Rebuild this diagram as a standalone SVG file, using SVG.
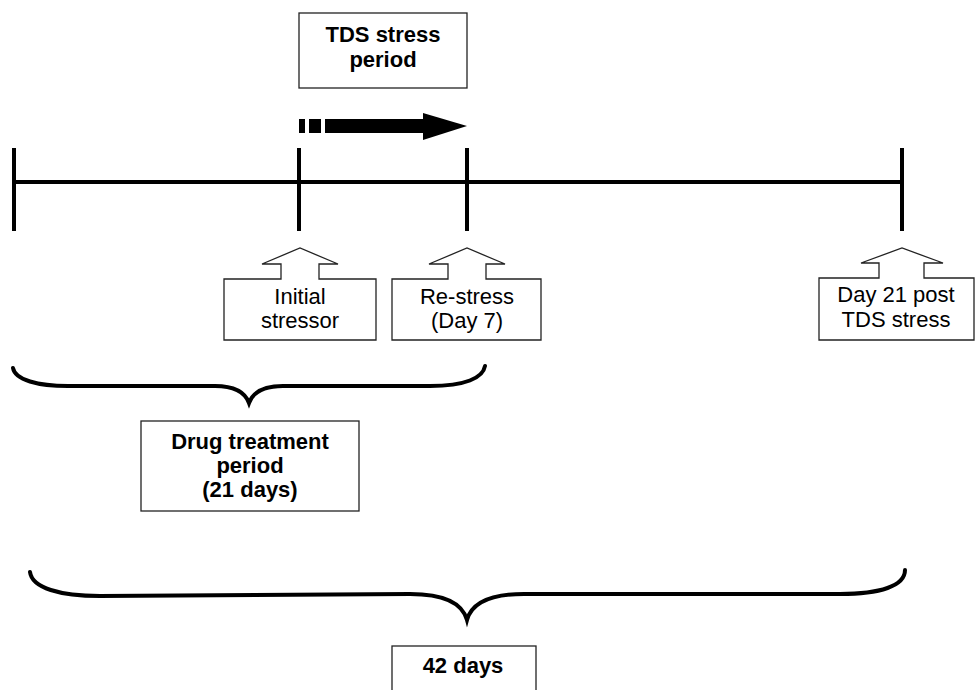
<svg xmlns="http://www.w3.org/2000/svg" width="975" height="690" viewBox="0 0 975 690">
<style>
.box{fill:#fff;stroke:#222;stroke-width:1.3}
.t{font-family:"Liberation Sans",Arial,sans-serif;font-size:22px;fill:#000;text-anchor:middle}
.b{font-weight:bold}
.line{stroke:#000;stroke-width:4;fill:none}
.brace{stroke:#000;stroke-width:4;fill:none;stroke-linecap:round}
</style>
<rect width="975" height="690" fill="#fff"/>
<g id="connectors">
<line class="line" x1="14" y1="182" x2="902" y2="182"/>
<line class="line" x1="14" y1="148" x2="14" y2="231"/>
<line class="line" x1="299" y1="148" x2="299" y2="231"/>
<line class="line" x1="467" y1="148" x2="467" y2="231"/>
<line class="line" x1="902" y1="148" x2="902" y2="231"/>
<g id="stress-arrow" fill="#000">
<rect x="299" y="119" width="6" height="14"/>
<rect x="309" y="119" width="12" height="14"/>
<rect x="325" y="119" width="99" height="14"/>
<polygon points="423,113 467,126 423,140"/>
</g>
<path class="brace" d="M13,368 C15,380 38,386 68,386 L215,386 C235,386 245,392 249,403 C253,392 263,386 283,386 L430,386 C465,386 483,378 485,366"/>
<path class="brace" d="M30,572 C32,588 60,596 100,596 L410,594 C442,594 462,602 467,620 C472,602 492,594 524,594 L840,594 C880,594 905,586 905,570"/>
</g>
<g id="tds-stress-period">
<rect class="box" x="299" y="13" width="168" height="75"/>
<text class="t b" x="383" y="42">TDS stress</text>
<text class="t b" x="383" y="67">period</text>
</g>
<g id="initial-stressor">
<path class="box" d="M224,279 L281,279 L281,264 L262,264 L300,248 L338,264 L319,264 L319,279 L376,279 L376,340 L224,340 Z"/>
<text class="t" x="300" y="304">Initial</text>
<text class="t" x="300" y="328">stressor</text>
</g>
<g id="re-stress">
<path class="box" d="M392,279 L448,279 L448,264 L429,264 L467,248 L505,264 L486,264 L486,279 L541,279 L541,340 L392,340 Z"/>
<text class="t" x="467" y="304">Re-stress</text>
<text class="t" x="467" y="328">(Day 7)</text>
</g>
<g id="day21">
<path class="box" d="M819,278 L879,278 L879,263 L861,263 L902,248 L943,263 L924,263 L924,278 L974,278 L974,340 L819,340 Z"/>
<text class="t" x="896" y="302">Day 21 post</text>
<text class="t" x="896" y="327">TDS stress</text>
</g>
<g id="drug-treatment">
<rect class="box" x="141" y="421" width="218" height="90"/>
<text class="t b" x="250" y="449">Drug treatment</text>
<text class="t b" x="250" y="473">period</text>
<text class="t b" x="250" y="497">(21 days)</text>
</g>
<g id="total-42">
<rect class="box" x="392" y="646" width="144" height="60"/>
<text class="t b" x="463" y="673">42 days</text>
</g>
</svg>
